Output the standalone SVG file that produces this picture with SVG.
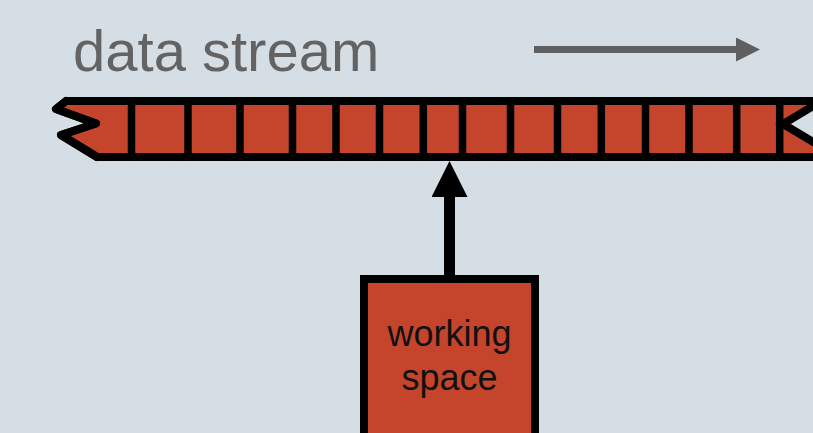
<svg xmlns="http://www.w3.org/2000/svg" width="813" height="433" viewBox="0 0 813 433">
  <style>
    .bg { fill: #D5DEE5; }
    .red { fill: #C4452C; stroke: #000; stroke-width: 8; stroke-linejoin: round; }
    .div { stroke: #000; stroke-width: 7.5; }
    .title { font-family: "Liberation Sans", Arial, sans-serif; font-size: 58px; fill: #636363; }
    .label { font-family: "Liberation Sans", Arial, sans-serif; font-size: 36px; fill: #111; text-anchor: middle; }
  </style>
  <defs>
    <marker id="grayhead" markerUnits="userSpaceOnUse" markerWidth="24" markerHeight="24" refX="0" refY="12" orient="auto">
      <path d="M0,0 L24,12 L0,24 Z" fill="#5F5F5F"/>
    </marker>
    <marker id="blackhead" markerUnits="userSpaceOnUse" markerWidth="36" markerHeight="36" refX="0" refY="18" orient="auto">
      <path d="M0,0 L36,18 L0,36 Z" fill="#000"/>
    </marker>
  </defs>
  <rect class="bg" x="0" y="0" width="813" height="433"/>

  <g id="title">
    <text class="title" x="73" y="71">data stream</text>
  </g>

  <g id="stream">
    <path class="red" d="M825,101 L66,101 L56,109 L96,123.5 L61,135 L97,157 L825,157 Z"/>
    <g class="div">
      <line x1="131.5" y1="101" x2="131.5" y2="157"/>
      <line x1="188" y1="101" x2="188" y2="157"/>
      <line x1="240" y1="101" x2="240" y2="157"/>
      <line x1="292.5" y1="101" x2="292.5" y2="157"/>
      <line x1="336" y1="101" x2="336" y2="157"/>
      <line x1="379.5" y1="101" x2="379.5" y2="157"/>
      <line x1="423.3" y1="101" x2="423.3" y2="157"/>
      <line x1="462.5" y1="101" x2="462.5" y2="157"/>
      <line x1="510.5" y1="101" x2="510.5" y2="157"/>
      <line x1="557.5" y1="101" x2="557.5" y2="157"/>
      <line x1="601.3" y1="101" x2="601.3" y2="157"/>
      <line x1="645.5" y1="101" x2="645.5" y2="157"/>
      <line x1="689" y1="101" x2="689" y2="157"/>
      <line x1="736.7" y1="101" x2="736.7" y2="157"/>
      <line x1="779.7" y1="101" x2="779.7" y2="157"/>
    </g>
    <path d="M830,96 L783,124 L830,152 Z" fill="#D5DEE5" stroke="#000" stroke-width="8" stroke-linejoin="miter"/>
    <path d="M66,101 L56,109 L96,123.5 L61,135 L97,157" fill="none" stroke="#000" stroke-width="8" stroke-linejoin="round" stroke-linecap="round"/>
  </g>

  <g id="working-space">
    <rect x="364" y="279" width="171" height="170" fill="#C4452C" stroke="#000" stroke-width="8"/>
    <text class="label" x="449.5" y="346">working</text>
    <text class="label" x="449.5" y="390">space</text>
  </g>

  <g id="connectors">
    <line x1="534" y1="49.5" x2="736" y2="49.5" stroke="#5F5F5F" stroke-width="7" marker-end="url(#grayhead)"/>
    <line x1="449.5" y1="276" x2="449.5" y2="197" stroke="#000" stroke-width="11" marker-end="url(#blackhead)"/>
  </g>
</svg>
